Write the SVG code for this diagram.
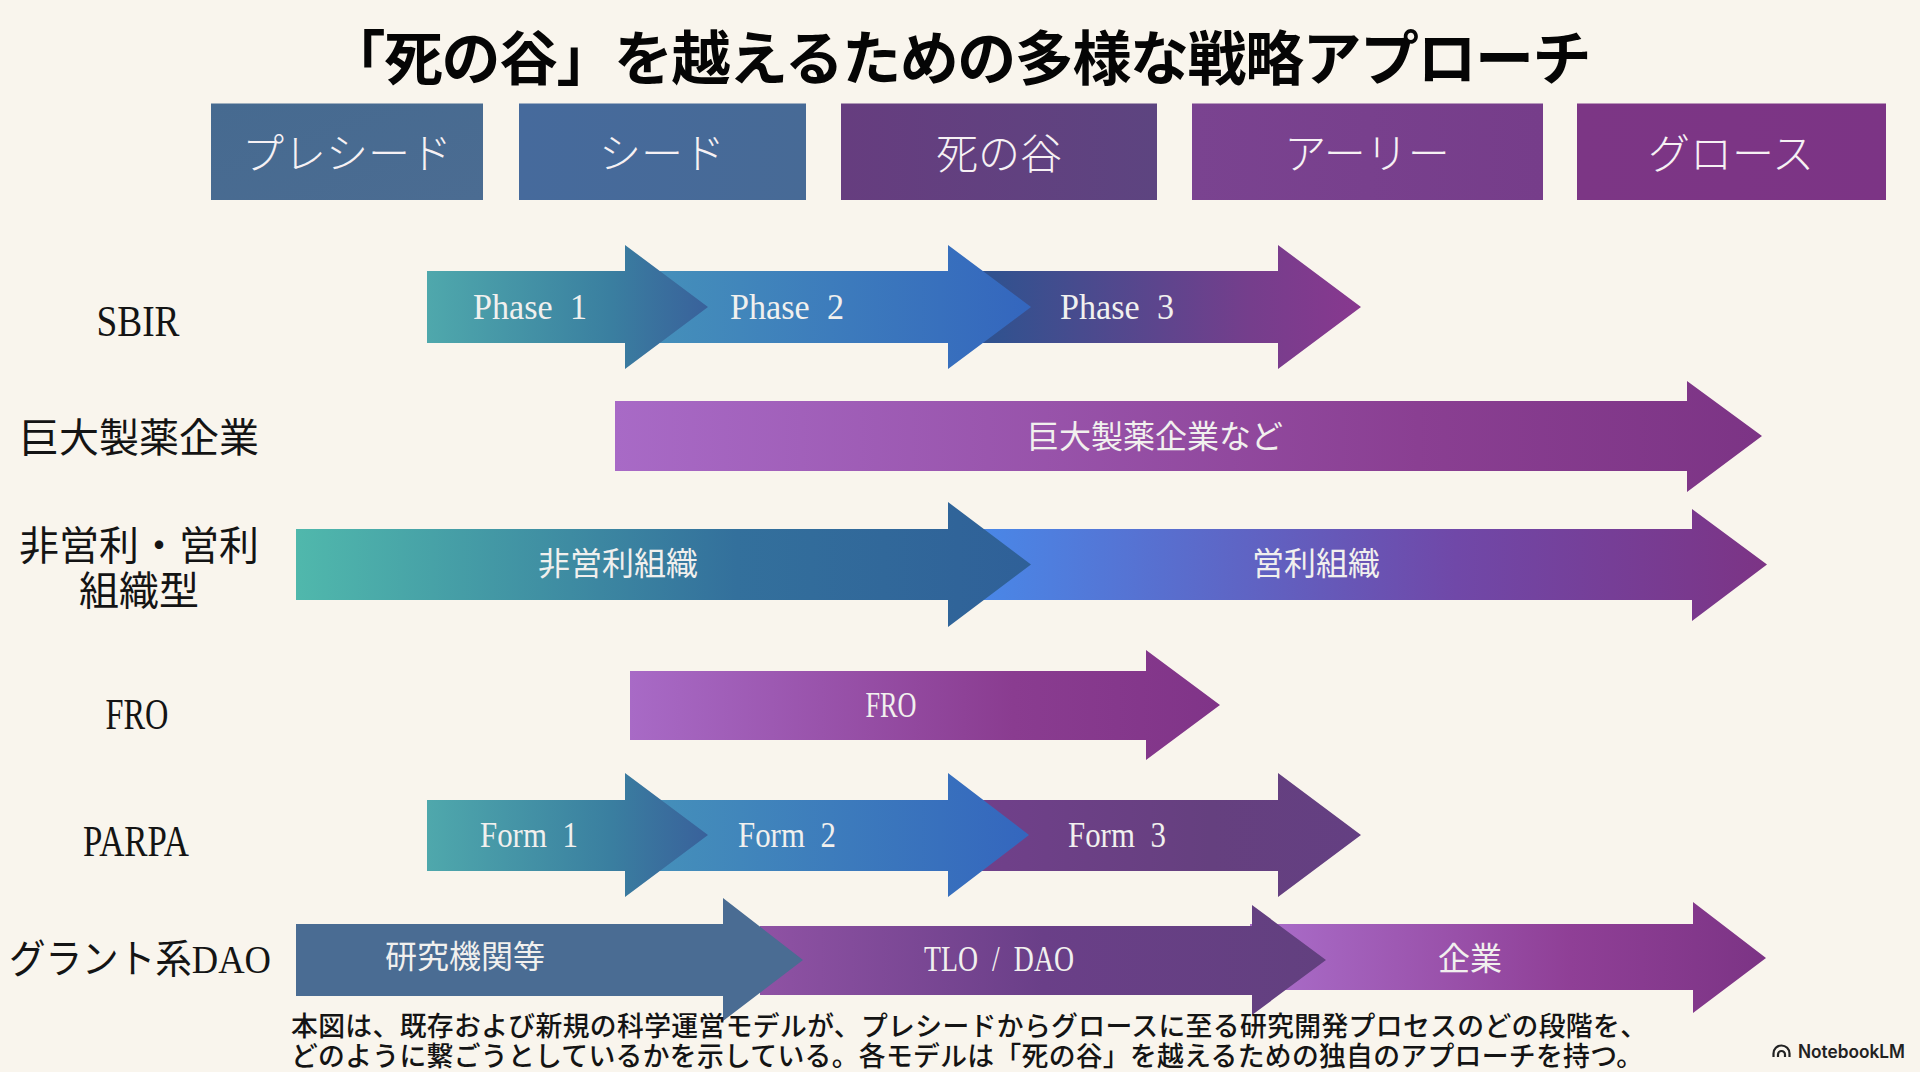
<svg xmlns="http://www.w3.org/2000/svg" width="1920" height="1072" viewBox="0 0 1920 1072">
<style>
text{font-family:"Liberation Serif","Noto Sans CJK JP",serif;dominant-baseline:central;text-anchor:middle}
.title{font-family:"Noto Sans CJK JP",sans-serif;font-weight:700;font-size:59px;fill:#050505}
.hd{font-size:42px;fill:#f6f1f4;font-weight:300}
.row{font-size:40px;fill:#141414}
.rowl{font-size:45px;fill:#141414;word-spacing:4px}
.lab{font-size:32px;fill:#f1f0ee}
.labl{font-size:35px;fill:#f1f0ee;word-spacing:9px}
.note{font-family:"Noto Sans CJK JP",sans-serif;font-weight:500;font-size:26.800px;fill:#141414;text-anchor:start}
.brand{font-family:"Inter",sans-serif;font-weight:600;font-size:18px;fill:#222;text-anchor:start}
</style>
<defs>
<linearGradient id="h1" x1="0" x2="1" y1="0" y2="1"><stop offset="0" stop-color="#466a90"/><stop offset="1" stop-color="#4b6c92"/></linearGradient>
<linearGradient id="h2" x1="0" x2="1" y1="0" y2="0"><stop offset="0" stop-color="#466a9c"/><stop offset="1" stop-color="#476a96"/></linearGradient>
<linearGradient id="h3" x1="0" x2="1" y1="0" y2="0"><stop offset="0" stop-color="#663d7f"/><stop offset="1" stop-color="#5d4480"/></linearGradient>
<linearGradient id="h4" x1="0" x2="1" y1="0" y2="0"><stop offset="0" stop-color="#7a4390"/><stop offset="1" stop-color="#763d8a"/></linearGradient>
<linearGradient id="h5" x1="0" x2="1" y1="0" y2="0"><stop offset="0" stop-color="#7c3685"/><stop offset="1" stop-color="#7c3485"/></linearGradient>
<linearGradient id="s1" gradientUnits="userSpaceOnUse" x1="427" x2="708" y1="0" y2="0"><stop offset="0" stop-color="#4fa8ac"/><stop offset=".65" stop-color="#3a7fa0"/><stop offset="1" stop-color="#39619b"/></linearGradient>
<linearGradient id="s2" gradientUnits="userSpaceOnUse" x1="650" x2="1031" y1="0" y2="0"><stop offset="0" stop-color="#4590ba"/><stop offset="1" stop-color="#3466be"/></linearGradient>
<linearGradient id="s3" gradientUnits="userSpaceOnUse" x1="990" x2="1361" y1="0" y2="0"><stop offset="0" stop-color="#30528f"/><stop offset=".7" stop-color="#753e8c"/><stop offset="1" stop-color="#88388f"/></linearGradient>
<linearGradient id="pu" gradientUnits="userSpaceOnUse" x1="615" x2="1762" y1="0" y2="0"><stop offset="0" stop-color="#a86ac6"/><stop offset=".7" stop-color="#8a3f92"/><stop offset="1" stop-color="#7c3485"/></linearGradient>
<linearGradient id="np" gradientUnits="userSpaceOnUse" x1="296" x2="1031" y1="0" y2="0"><stop offset="0" stop-color="#50b8ac"/><stop offset=".6" stop-color="#33709c"/><stop offset="1" stop-color="#2f6098"/></linearGradient>
<linearGradient id="fp" gradientUnits="userSpaceOnUse" x1="990" x2="1767" y1="0" y2="0"><stop offset="0" stop-color="#4a86e6"/><stop offset=".6" stop-color="#7048a8"/><stop offset="1" stop-color="#7c3485"/></linearGradient>
<linearGradient id="fr" gradientUnits="userSpaceOnUse" x1="630" x2="1220" y1="0" y2="0"><stop offset="0" stop-color="#a86ac6"/><stop offset=".65" stop-color="#8a3c90"/><stop offset="1" stop-color="#803488"/></linearGradient>
<linearGradient id="p3" gradientUnits="userSpaceOnUse" x1="985" x2="1361" y1="0" y2="0"><stop offset="0" stop-color="#70408a"/><stop offset=".6" stop-color="#65407f"/><stop offset="1" stop-color="#643f82"/></linearGradient>
<linearGradient id="d2" gradientUnits="userSpaceOnUse" x1="760" x2="1326" y1="0" y2="0"><stop offset="0" stop-color="#8f52a4"/><stop offset=".5" stop-color="#6a3f88"/><stop offset="1" stop-color="#62407f"/></linearGradient>
<linearGradient id="d3" gradientUnits="userSpaceOnUse" x1="1280" x2="1766" y1="0" y2="0"><stop offset="0" stop-color="#a86ac6"/><stop offset=".6" stop-color="#8f3f96"/><stop offset="1" stop-color="#7c3485"/></linearGradient>
</defs>
<rect width="1920" height="1072" fill="#f9f5ed"/>
<g id="title"><text class="title" x="959" y="54" textLength="1265" lengthAdjust="spacing">「死の谷」を越えるための多様な戦略アプローチ</text></g>
<g id="stage-preseed"><rect x="211" y="103.500" width="272" height="96.500" fill="url(#h1)"/><text class="hd" x="347" y="155">プレシード</text></g>
<g id="stage-seed"><rect x="519" y="103.500" width="287" height="96.500" fill="url(#h2)"/><text class="hd" x="662" y="155">シード</text></g>
<g id="stage-valley"><rect x="841" y="103.500" width="316" height="96.500" fill="url(#h3)"/><text class="hd" x="999" y="155">死の谷</text></g>
<g id="stage-early"><rect x="1192" y="103.500" width="351" height="96.500" fill="url(#h4)"/><text class="hd" x="1367" y="155">アーリー</text></g>
<g id="stage-growth"><rect x="1577" y="103.500" width="309" height="96.500" fill="url(#h5)"/><text class="hd" x="1731" y="155">グロース</text></g>
<g id="connectors">
<polygon fill="url(#s3)" points="970,271 1278,271 1278,245 1361,307 1278,369 1278,343 970,343"/>
<polygon fill="url(#s2)" points="650,271 948,271 948,245 1031,307 948,369 948,343 650,343"/>
<polygon fill="url(#s1)" points="427,271 625,271 625,245 708,307 625,369 625,343 427,343"/>
<polygon fill="url(#pu)" points="615,401 1687,401 1687,381 1762,436 1687,492 1687,471 615,471"/>
<polygon fill="url(#fp)" points="970,529 1692,529 1692,509 1767,564.500 1692,621 1692,600 970,600"/>
<polygon fill="url(#np)" points="296,529 948,529 948,502 1031,564.500 948,627 948,600 296,600"/>
<polygon fill="url(#fr)" points="630,671 1146,671 1146,650 1220,705 1146,760 1146,740 630,740"/>
<polygon fill="url(#p3)" points="970,800 1278,800 1278,773 1361,835 1278,897 1278,871 970,871"/>
<polygon fill="url(#s2)" points="650,800 948,800 948,773 1029,835 948,897 948,871 650,871"/>
<polygon fill="url(#s1)" points="427,800 625,800 625,773 708,835 625,897 625,871 427,871"/>
<polygon fill="url(#d3)" points="1250,924 1693,924 1693,902 1766,958 1693,1013 1693,990 1250,990"/>
<polygon fill="url(#d2)" points="760,926 1252,926 1252,905 1326,960 1252,1015 1252,995 760,995"/>
<polygon fill="#4a6c93" points="296,924 723,924 723,898 803,960 723,1021 723,996 296,996"/>
</g>
<g id="row-sbir"><text class="rowl" x="138" y="321" textLength="83" lengthAdjust="spacingAndGlyphs">SBIR</text><text class="labl" x="530" y="307" textLength="114" lengthAdjust="spacingAndGlyphs">Phase 1</text><text class="labl" x="787" y="307" textLength="114" lengthAdjust="spacingAndGlyphs">Phase 2</text><text class="labl" x="1117" y="307" textLength="114" lengthAdjust="spacingAndGlyphs">Phase 3</text></g>
<g id="row-pharma"><text class="row" x="139" y="438">巨大製薬企業</text><text class="lab" x="1155" y="437">巨大製薬企業など</text></g>
<g id="row-nonprofit"><text class="row" x="139" y="546">非営利・営利</text><text class="row" x="139" y="591">組織型</text><text class="lab" x="618" y="564">非営利組織</text><text class="lab" x="1316" y="564">営利組織</text></g>
<g id="row-fro"><text class="rowl" x="137" y="714" textLength="63" lengthAdjust="spacingAndGlyphs">FRO</text><text class="labl" x="891" y="705" textLength="51" lengthAdjust="spacingAndGlyphs">FRO</text></g>
<g id="row-parpa"><text class="rowl" x="136" y="841" textLength="106" lengthAdjust="spacingAndGlyphs">PARPA</text><text class="labl" x="529" y="835" textLength="98" lengthAdjust="spacingAndGlyphs">Form 1</text><text class="labl" x="787" y="835" textLength="98" lengthAdjust="spacingAndGlyphs">Form 2</text><text class="labl" x="1117" y="835" textLength="98" lengthAdjust="spacingAndGlyphs">Form 3</text></g>
<g id="row-dao"><text class="row" x="140" y="959" textLength="262" lengthAdjust="spacingAndGlyphs">グラント系DAO</text><text class="lab" x="465" y="957">研究機関等</text><text class="labl" x="999" y="959" textLength="150" lengthAdjust="spacingAndGlyphs">TLO / DAO</text><text class="lab" x="1470" y="959">企業</text></g>
<g id="note"><text class="note"><tspan x="291" y="1024" textLength="1356" lengthAdjust="spacing">本図は、既存および新規の科学運営モデルが、プレシードからグロースに至る研究開発プロセスのどの段階を、</tspan><tspan x="291" y="1054" textLength="1352" lengthAdjust="spacing">どのように繋ごうとしているかを示している。各モデルは「死の谷」を越えるための独自のアプローチを持つ。</tspan></text></g>
<g id="brand"><path d="M1773.500 1057v-3.500a8 8 0 0 1 16 0v3.500M1778 1057v-2.500a3.500 3.500 0 0 1 7 0v2.500" fill="none" stroke="#222" stroke-width="2.200"/><text class="brand" x="1798" y="1051" textLength="107" lengthAdjust="spacingAndGlyphs">NotebookLM</text></g>
</svg>
